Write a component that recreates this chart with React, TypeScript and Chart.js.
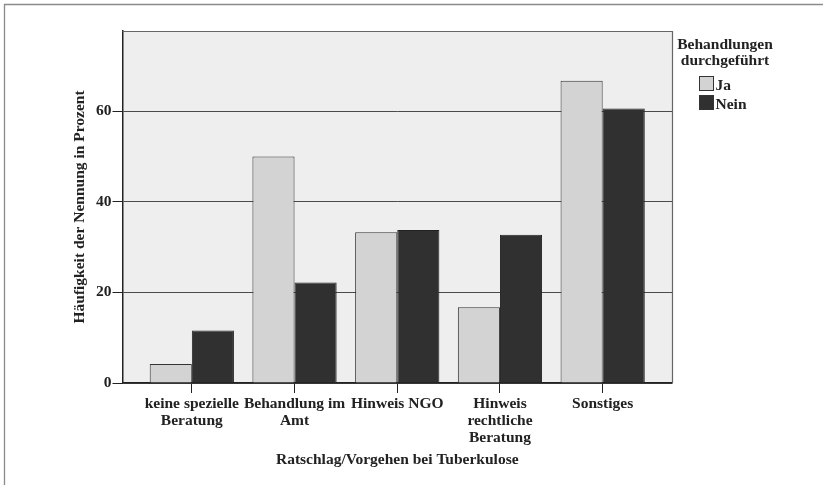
import React, { useEffect, useRef } from 'react';
import { Chart, registerables } from 'chart.js';

Chart.register(...registerables);

const categories: string[][] = [
  ['keine spezielle', 'Beratung'],
  ['Behandlung im', 'Amt'],
  ['Hinweis NGO'],
  ['Hinweis', 'rechtliche', 'Beratung'],
  ['Sonstiges'],
];
const jaValues = [4.2, 50.0, 33.3, 16.7, 66.7];
const neinValues = [11.6, 22.2, 33.8, 32.7, 60.6];
const yTickValues = [0, 20, 40, 60];
const seriesLabels = ['Ja', 'Nein'];
const seriesColors = ['#d3d3d3', '#303030'];
const legendTitle = ['Behandlungen', 'durchgeführt'];
const xTitle = 'Ratschlag/Vorgehen bei Tuberkulose';
const yTitle = 'Häufigkeit der Nennung in Prozent';

const FONT_FAMILY = '"Liberation Serif", "Times New Roman", serif';
const font = { family: FONT_FAMILY, size: 15.5, weight: 'bold' as const, lineHeight: 1.08 };
const TEXT = '#222222';

const decorPlugin = {
  id: 'decor',
  beforeDraw(chart: any) {
    const { ctx, chartArea } = chart;
    ctx.save();
    ctx.fillStyle = '#ffffff';
    ctx.fillRect(0, 0, chart.width, chart.height);
    ctx.fillStyle = '#eeeeee';
    ctx.fillRect(chartArea.left, chartArea.top, chartArea.right - chartArea.left, chartArea.bottom - chartArea.top);
    ctx.restore();
  },
  afterDraw(chart: any) {
    const { ctx, chartArea } = chart;
    ctx.save();
    // plot top & right border
    ctx.strokeStyle = '#666666';
    ctx.lineWidth = 1.2;
    ctx.beginPath();
    ctx.moveTo(chartArea.left, Math.round(chartArea.top) + 0.5);
    ctx.lineTo(Math.round(chartArea.right) + 0.5, Math.round(chartArea.top) + 0.5);
    ctx.lineTo(Math.round(chartArea.right) + 0.5, chartArea.bottom);
    ctx.stroke();
    // outer frame
    ctx.strokeStyle = '#8a8a8a';
    ctx.lineWidth = 1.3;
    ctx.beginPath();
    ctx.moveTo(4.5, chart.height);
    ctx.lineTo(4.5, 4.5);
    ctx.lineTo(chart.width, 4.5);
    ctx.stroke();
    // legend
    ctx.font = `bold 15.5px ${FONT_FAMILY}`;
    ctx.fillStyle = TEXT;
    ctx.textAlign = 'center';
    ctx.textBaseline = 'alphabetic';
    ctx.fillText(legendTitle[0], 725, 48.5);
    ctx.fillText(legendTitle[1], 725, 65);
    ctx.textAlign = 'left';
    chart.data.datasets.forEach((ds: any, i: number) => {
      const y = 76.5 + i * 19;
      ctx.fillStyle = ds.backgroundColor;
      ctx.fillRect(699.5, y, 14, 14);
      ctx.strokeStyle = '#333333';
      ctx.lineWidth = 1;
      ctx.strokeRect(699.5, y, 14, 14);
      ctx.fillStyle = TEXT;
      ctx.fillText(ds.label, 715.5, y + 13.5);
    });
    ctx.restore();
  },
};

export default function App() {
  const ref = useRef<HTMLCanvasElement | null>(null);

  useEffect(() => {
    document.body.style.margin = '0';
    const canvas = ref.current!;
    const chart = new Chart(canvas, {
      type: 'bar',
      data: {
        datasets: [
          {
            label: seriesLabels[0],
            data: jaValues.map((v, i) => ({ x: i, y: v })),
            backgroundColor: seriesColors[0],
            borderColor: '#333333',
            borderWidth: 1,
          },
          {
            label: seriesLabels[1],
            data: neinValues.map((v, i) => ({ x: i, y: v })),
            backgroundColor: seriesColors[1],
            borderColor: '#222222',
            borderWidth: 1,
          },
        ],
      },
      options: {
        animation: false,
        responsive: false,
        devicePixelRatio: 1,
        categoryPercentage: 0.82,
        barPercentage: 1,
        layout: { padding: { left: 0, top: 31, right: 151, bottom: 0 } },
        plugins: { legend: { display: false }, tooltip: { enabled: false } },
        scales: {
          x: {
            type: 'linear',
            min: -0.675,
            max: 4.675,
            offset: false,
            afterFit: (s: any) => {
              s.height = 102;
            },
            afterBuildTicks: (s: any) => {
              s.ticks = categories.map((_, i) => ({ value: i }));
            },
            ticks: {
              callback: (v: any) => categories[v] ?? '',
              font,
              color: TEXT,
              padding: 3,
              maxRotation: 0,
              autoSkip: false,
            },
            grid: { offset: false, drawOnChartArea: false, tickLength: 10, tickColor: '#222222', tickWidth: 1 },
            border: { color: '#222222', width: 1.5 },
            title: { display: true, text: xTitle, font, color: TEXT, padding: { top: 0, bottom: 17 } },
          },
          y: {
            type: 'linear',
            min: 0,
            max: 77.7,
            afterFit: (s: any) => {
              s.width = 122.5;
            },
            afterBuildTicks: (s: any) => {
              s.ticks = yTickValues.map((v) => ({ value: v }));
            },
            ticks: { font, color: TEXT, padding: 1, includeBounds: false },
            grid: { color: '#4a4a4a', lineWidth: 1, tickLength: 10, tickColor: '#222222' },
            border: { color: '#222222', width: 1.5 },
            title: { display: true, text: yTitle, font, color: TEXT, padding: { top: 72, bottom: 0 } },
          },
        },
      } as any,
      plugins: [decorPlugin],
    });
    return () => chart.destroy();
  }, []);

  return (
    <div style={{ position: 'absolute', left: 0, top: 0, width: 823, height: 485 }}>
      <canvas ref={ref} width={823} height={485} style={{ display: 'block', width: 823, height: 485 }} />
    </div>
  );
}
